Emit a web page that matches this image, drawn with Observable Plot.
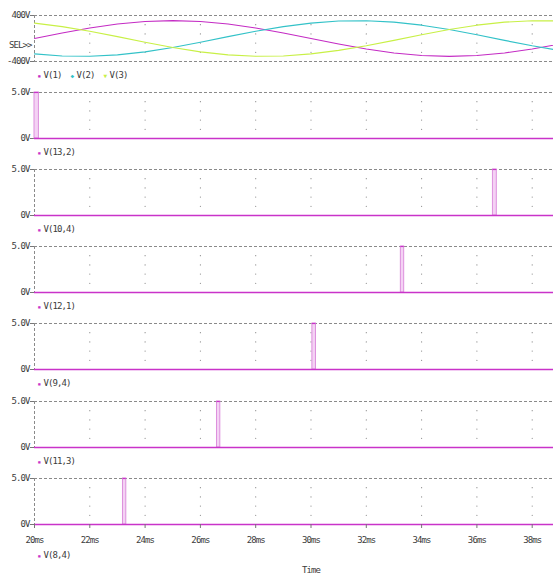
<!DOCTYPE html>
<html><head><meta charset="utf-8">
<script src="https://cdn.jsdelivr.net/npm/d3@7"></script>
<script src="https://cdn.jsdelivr.net/npm/@observablehq/plot@0.6"></script>
<style>
html,body{margin:0;padding:0;background:#fff;overflow:hidden;}
#chart{position:relative;width:553px;height:579px;overflow:hidden;}
#chart svg{position:absolute;left:0;overflow:visible;max-width:none !important;}
</style></head><body><div id="chart"></div>
<script>
// ---- data ----
const timeMs = [20,21,22,23,24,25,26,27,28,29,30,31,32,33,34,35,36,37,38,39,40];
const v1 = [0,96,183,252,296,311,296,252,183,96,0,-96,-183,-252,-296,-311,-296,-252,-183,-96,0];
const v2 = [-269,-304,-309,-284,-231,-156,-65,32,126,208,269,304,309,284,231,156,65,-32,-126,-208,-269];
const v3 = [269,208,126,32,-65,-156,-231,-284,-309,-304,-269,-208,-126,-32,65,156,231,284,309,304,269];
const phaseNames = ["V(1)","V(2)","V(3)"];
const phaseColors = ["#c42bc4","#33c2c8","#c8f046"];
const phaseGlyphs = ["\u25AA","\u25C6","\u25BC"];
const phaseTickValues = [-400,400];
const phaseTickLabels = ["-400V","400V"];

const pulseNames = ["V(13,2)","V(10,4)","V(12,1)","V(9,4)","V(11,3)","V(8,4)"];
const pulseStart = [20.0,36.58,33.25,30.05,26.6,23.2];
const pulseEnd   = [20.16,36.72,33.37,30.18,26.72,23.32];
const pulseTickValues = [0,5];
const pulseTickLabels = ["0V","5.0V"];

const xTicks = [20,22,24,26,28,30,32,34,36,38];
const xDomain = [20,40];

// ---- styling / layout ----
const magenta = "#c933c9";
const txt = "#3c3c3c";
const font = "DejaVu Sans Mono";
const W = 600, ML = 34, MR = 13, MT = 10, PH = 46;
const firstTop = 15, step = 77.1;

const chart = document.getElementById("chart");

function gridDots(yDomain) {
  const [lo, hi] = yDomain;
  const levels = d3.range(1, 5).map(i => lo + i * (hi - lo) / 5);
  return xTicks.slice(1).flatMap(x => levels.map(y => ({x, y})));
}

function basePanel(yDomain, tickValues, tickLabels) {
  const lab = new Map(tickValues.map((v, i) => [v, tickLabels[i]]));
  return [
    Plot.dot(gridDots(yDomain), {x: "x", y: "y", r: 0.6, fill: "#8a8a8a", stroke: null}),
    Plot.ruleY([yDomain[1]], {stroke: "#8a8a8a", strokeDasharray: "3,2"}),
    Plot.ruleX([xDomain[0]], {stroke: "#8a8a8a", strokeDasharray: "3,2"}),
    Plot.axisY({ticks: tickValues, tickFormat: d => lab.get(d), tickSize: 4, tickPadding: 1,
      fontSize: 9, stroke: "#777", label: null})
  ];
}

function makePlot(marks, yDomain, mb, k) {
  const svg = Plot.plot({
    width: W, height: MT + PH + mb,
    marginLeft: ML, marginRight: MR, marginTop: MT, marginBottom: mb,
    x: {domain: xDomain, axis: null, label: null},
    y: {domain: yDomain, axis: null, label: null},
    style: {fontFamily: font, fontSize: "9px", color: txt, background: "transparent", letterSpacing: "-0.9px", maxWidth: "none"},
    marks
  });
  svg.style.top = (firstTop + step * k - MT) + "px";
  svg.style.maxWidth = "none";
  chart.appendChild(svg);
}

// ---- top (three-phase) panel ----
{
  const yDomain = [-400, 400];
  const rows = timeMs.flatMap((t, i) => [
    {t, v: v1[i], s: phaseNames[0]},
    {t, v: v2[i], s: phaseNames[1]},
    {t, v: v3[i], s: phaseNames[2]}
  ]);
  const marks = [
    ...basePanel(yDomain, phaseTickValues, phaseTickLabels),
    Plot.ruleY([yDomain[0]], {stroke: "#8a8a8a", strokeDasharray: "3,2"}),
    ...phaseNames.map((n, i) => Plot.line(rows.filter(r => r.s === n),
      {x: "t", y: "v", stroke: phaseColors[i], strokeWidth: 1.2})),
    Plot.text(["SEL>>"], {frameAnchor: "left", dx: -3, dy: 7, textAnchor: "end", fill: txt}),
    ...phaseNames.flatMap((n, i) => [
      Plot.text([phaseGlyphs[i]], {frameAnchor: "bottom-left", dx: 3 + 33 * i, dy: 16, fill: phaseColors[i], fontSize: 6}),
      Plot.text([n], {frameAnchor: "bottom-left", dx: 9 + 33 * i, dy: 16, textAnchor: "start", fill: txt})
    ])
  ];
  makePlot(marks, yDomain, 24, 0);
}

// ---- pulse panels ----
pulseNames.forEach((name, i) => {
  const yDomain = [0, 5];
  const last = i === pulseNames.length - 1;
  const pulse = [{x1: pulseStart[i], x2: pulseEnd[i]}];
  const marks = [
    ...basePanel(yDomain, pulseTickValues, pulseTickLabels),
    Plot.rectY(pulse, {x1: "x1", x2: "x2", y1: 0, y2: 5, fill: "#f4d2f4", stroke: "#dd90dd", strokeWidth: 1}),
    Plot.ruleY([5], {x1: pulseStart[i], x2: pulseEnd[i], stroke: magenta, strokeWidth: 1.2}),
    Plot.ruleY([0], {stroke: magenta, strokeWidth: 1.5}),
    Plot.text(["\u25AA"], {frameAnchor: "bottom-left", dx: 3, dy: last ? 33 : 16, fill: magenta, fontSize: 6}),
    Plot.text([name], {frameAnchor: "bottom-left", dx: 9, dy: last ? 33 : 16, textAnchor: "start", fill: txt})
  ];
  if (last) {
    marks.push(
      Plot.axisX({ticks: xTicks, tickFormat: d => d + "ms", tickSize: 4, tickPadding: 8, fontSize: 9, stroke: "#777", label: null}),
      Plot.text(["Time"], {frameAnchor: "bottom", dy: 48, fill: txt})
    );
  }
  makePlot(marks, yDomain, last ? 60 : 24, i + 1);
});
</script></body></html>
